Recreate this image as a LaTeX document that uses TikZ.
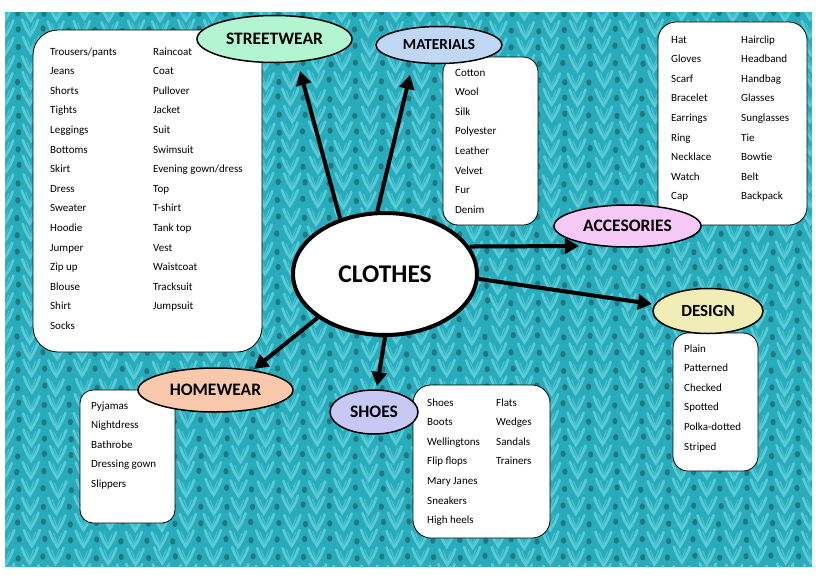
\documentclass[tikz,border=0pt]{standalone}
\usepackage{fontspec}
\setmainfont{Carlito}
\usetikzlibrary{arrows.meta,shapes.geometric}
\definecolor{teal0}{RGB}{40,172,188}
\definecolor{knitlight}{RGB}{125,225,235}
\definecolor{knithole}{RGB}{35,100,110}
\definecolor{cstreet}{RGB}{178,245,208}
\definecolor{cmat}{RGB}{192,216,245}
\definecolor{cacc}{RGB}{245,200,245}
\definecolor{cdes}{RGB}{240,238,182}
\definecolor{cshoe}{RGB}{200,200,245}
\definecolor{chome}{RGB}{250,200,172}
\begin{document}
\begin{tikzpicture}[x=1pt,y=-1pt,
  listbox/.style={draw=black,line width=0.8pt,fill=white,inner sep=0pt},
  cat/.style={ellipse,draw=black,line width=1.5pt,inner sep=0pt},
  item/.style={anchor=base west,inner sep=0pt,font=\fontsize{11}{13}\selectfont},
  arr/.style={line width=4pt,-{Triangle[length=14pt,width=15pt]}},
  knit/.style={knitlight,line width=2.6pt,line cap=round,opacity=0.6},
  hole/.style={knithole,opacity=0.75}]
\useasboundingbox (0,0) rectangle (821,581);
\fill[white] (0,0) rectangle (821,581);
% background knit
\begin{scope}
\clip (5,12) rectangle (812,567);
\fill[teal0] (5,12) rectangle (812,567);
\pgfmathsetseed{7}
\foreach \c in {0,...,31} {
  \foreach \r in {0,...,33} {
    \pgfmathsetmacro\xx{5+\c*26+1.5*rand}
    \pgfmathsetmacro\yy{12+\r*17+1.5*rand}
    \draw[knit] (\xx-8,\yy-8) .. controls (\xx-5,\yy) .. (\xx,\yy+8)
                .. controls (\xx+5,\yy) .. (\xx+8,\yy-8);
    \draw[knit,line width=1.2pt,opacity=0.4] (\xx-4,\yy-6) -- (\xx,\yy+4) -- (\xx+4,\yy-6);
    \fill[hole] (\xx+13,\yy+1) ellipse (2.6 and 3.2);
  }
}
\end{scope}
% list boxes
\node[listbox,rounded corners=25pt,minimum width=229pt,minimum height=322pt] (sbox) at (147.5,191) {};
\node[listbox,rounded corners=15pt,minimum width=95pt,minimum height=168pt] (mbox) at (490.5,141) {};
\node[listbox,rounded corners=18pt,minimum width=149pt,minimum height=203pt] (abox) at (732.5,123.5) {};
\node[listbox,rounded corners=15pt,minimum width=85pt,minimum height=138pt] (dbox) at (715.5,402) {};
\node[listbox,rounded corners=18pt,minimum width=137pt,minimum height=153pt] (shbox) at (481.5,461.5) {};
\node[listbox,rounded corners=13pt,minimum width=95pt,minimum height=133pt] (hbox) at (127.5,456.5) {};
% items (baseline = row centre + 4)
\foreach \t [count=\i] in {{Trousers/pants},Jeans,Shorts,Tights,Leggings,Bottoms,Skirt,Dress,Sweater,Hoodie,Jumper,Zip up,Blouse,Shirt,Socks}
  \node[item] (sa\i) at (50,{55+(\i-1)*19.6}) {\t};
\foreach \t [count=\i] in {Raincoat,Coat,Pullover,Jacket,Suit,Swimsuit,{Evening gown/dress},Top,T-shirt,Tank top,Vest,Waistcoat,Tracksuit,Jumpsuit}
  \node[item] (sb\i) at (153,{55+(\i-1)*19.6}) {\t};
\foreach \t [count=\i] in {Cotton,Wool,Silk,Polyester,Leather,Velvet,Fur,Denim}
  \node[item] (m\i) at (455,{76+(\i-1)*19.6}) {\t};
\foreach \t [count=\i] in {Hat,Gloves,Scarf,Bracelet,Earrings,Ring,Necklace,Watch,Cap}
  \node[item] (aa\i) at (671,{43+(\i-1)*19.6}) {\t};
\foreach \t [count=\i] in {Hairclip,Headband,Handbag,Glasses,Sunglasses,Tie,Bowtie,Belt,Backpack}
  \node[item] (ab\i) at (741,{43+(\i-1)*19.6}) {\t};
\foreach \t [count=\i] in {Plain,Patterned,Checked,Spotted,Polka-dotted,Striped}
  \node[item] (d\i) at (684,{352+(\i-1)*19.6}) {\t};
\foreach \t [count=\i] in {Shoes,Boots,Wellingtons,Flip flops,Mary Janes,Sneakers,High heels}
  \node[item] (sha\i) at (427,{406+(\i-1)*19.6}) {\t};
\foreach \t [count=\i] in {Flats,Wedges,Sandals,Trainers}
  \node[item] (shb\i) at (496,{406+(\i-1)*19.6}) {\t};
\foreach \t [count=\i] in {Pyjamas,Nightdress,Bathrobe,Dressing gown,Slippers}
  \node[item] (h\i) at (91,{409+(\i-1)*19.6}) {\t};
% central ellipse
\node[ellipse,draw=black,fill=white,line width=4pt,minimum width=184pt,minimum height=122pt,inner sep=0pt,font=\fontsize{25.5}{26}\selectfont\bfseries] (clothes) at (385,274) {CLOTHES};
% tips
\coordinate (stTip) at (300,71);
\coordinate (matTip) at (410,75);
\coordinate (accTip) at (579,246);
\coordinate (desTip) at (652,304);
\coordinate (homeTip) at (254,369);
\coordinate (shoeTip) at (377,386);
\draw[arr] (clothes.129) -- (stTip);
\draw[arr] (clothes.97) -- (matTip);
\draw[arr] (clothes.18) -- (accTip);
\draw[arr] (clothes.-3) -- (desTip);
\draw[arr] (clothes.213) -- (homeTip);
\draw[arr] (clothes.270) -- (shoeTip);
% category ellipses
\node[cat,fill=cstreet,minimum width=155pt,minimum height=47pt,font=\fontsize{17.5}{18}\selectfont\bfseries] (street) at (274.5,39) {STREETWEAR};
\node[cat,fill=cmat,minimum width=126pt,minimum height=37pt,font=\fontsize{15.3}{16}\selectfont\bfseries] (mat) at (439,45) {MATERIALS};
\node[cat,fill=cacc,minimum width=147pt,minimum height=42pt,font=\fontsize{17.5}{18}\selectfont\bfseries] (acc) at (627.5,226) {ACCESORIES};
\node[cat,fill=cdes,minimum width=110pt,minimum height=45pt,font=\fontsize{17}{17}\selectfont\bfseries] (des) at (708,311) {DESIGN};
\node[cat,fill=cshoe,minimum width=88pt,minimum height=44pt,font=\fontsize{17.5}{18}\selectfont\bfseries] (shoe) at (374,412) {SHOES};
\node[cat,fill=chome,minimum width=155pt,minimum height=44pt,font=\fontsize{17.5}{18}\selectfont\bfseries] (home) at (215.5,390) {HOMEWEAR};
\end{tikzpicture}
\end{document}
